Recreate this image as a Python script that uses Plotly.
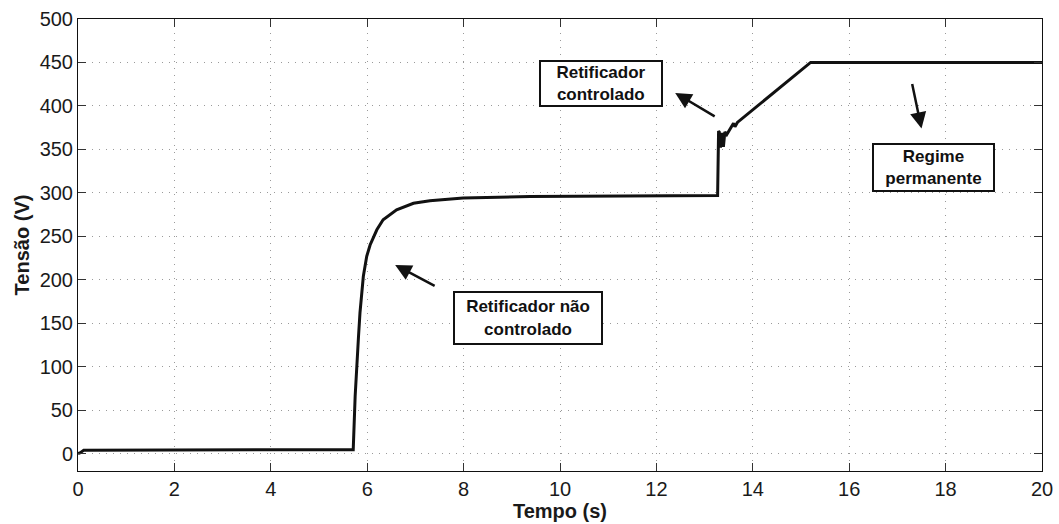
import plotly.graph_objects as go

# Tempo (s) e tensão (V) do barramento CC durante a partida
tempo = [0.0, 0.05, 0.12, 2.0, 4.0, 5.71, 5.75, 5.78, 5.82, 5.85, 5.92, 5.99, 6.06,
         6.20, 6.33, 6.61, 6.96, 7.30, 7.99, 9.38, 12.0, 13.27,
         13.29, 13.305, 13.33, 13.36, 13.39, 13.42, 13.46, 13.51, 13.56, 13.60,
         13.63, 13.68, 15.20, 17.0, 20.0]
tensao = [0.0, 1.0, 4.0, 4.0, 4.0, 4.5, 66.0, 104.0, 135.0, 162.0, 204.0, 227.0, 240.0,
          257.5, 269.0, 280.5, 288.0, 291.0, 294.0, 295.7, 296.5, 297.0,
          371.0, 370.0, 352.0, 369.0, 353.0, 370.0, 367.0, 372.0, 376.0, 380.0,
          376.0, 381.0, 450.0, 450.0, 450.0]

x_ticks = [0, 2, 4, 6, 8, 10, 12, 14, 16, 18, 20]
y_ticks = [0, 50, 100, 150, 200, 250, 300, 350, 400, 450, 500]

# Caixas de texto: (rótulo, x, y, largura, altura)
caixas = [
    ("Retificador não<br>controlado", 9.34, 156, 150, 54),
    ("Retificador<br>controlado", 10.85, 426, 124, 47),
    ("Regime<br>permanente", 17.75, 329, 123, 49),
]
# Setas: (x ponta, y ponta, x cauda, y cauda)
setas = [
    (6.58, 217, 7.43, 192),
    (12.39, 415, 13.24, 387),
    (17.50, 374, 17.30, 427),
]

fig = go.Figure()
fig.add_trace(go.Scatter(x=tempo, y=tensao, mode="lines",
                         line=dict(color="#111111", width=3),
                         showlegend=False))

font_fam = "Liberation Sans, Arial, Helvetica, sans-serif"
eixo = dict(
    showline=True, linecolor="#111111", linewidth=1, mirror="ticks",
    ticks="inside", ticklen=8, tickcolor="#333333", tickwidth=1,
    showgrid=True, gridcolor="#9a9a9a", gridwidth=1, griddash="1px,6px",
    zeroline=False,
    tickfont=dict(family=font_fam, size=20, color="#1a1a1a"),
)

fig.update_xaxes(**eixo, range=[0, 20], tickvals=x_ticks,
                 title=dict(text="<b>Tempo (s)</b>", standoff=2,
                            font=dict(family=font_fam, size=20, color="#1a1a1a")))
fig.update_yaxes(**eixo, range=[-20, 500], tickvals=y_ticks,
                 title=dict(text="<b>Tensão (V)</b>", standoff=4,
                            font=dict(family=font_fam, size=20, color="#1a1a1a")))

anns = []
for txt, x, y, w, h in caixas:
    anns.append(dict(x=x, y=y, xref="x", yref="y", text="<b>" + txt + "</b>",
                     showarrow=False, font=dict(family=font_fam, size=17, color="#111111"),
                     bordercolor="#111111", borderwidth=2, borderpad=1,
                     bgcolor="white", width=w - 6, height=h - 6, align="center",
                     valign="middle"))
for xt, yt, xc, yc in setas:
    anns.append(dict(x=xt, y=yt, xref="x", yref="y", ax=xc, ay=yc,
                     axref="x", ayref="y", text="", showarrow=True,
                     arrowhead=2, arrowsize=1.3, arrowwidth=2.5,
                     arrowcolor="#111111", standoff=0, startstandoff=0))

fig.update_layout(
    width=1059, height=524,
    margin=dict(l=78, r=17, t=19, b=53, autoexpand=False),
    paper_bgcolor="white", plot_bgcolor="white",
    annotations=anns,
)

fig.write_html("out.html")
